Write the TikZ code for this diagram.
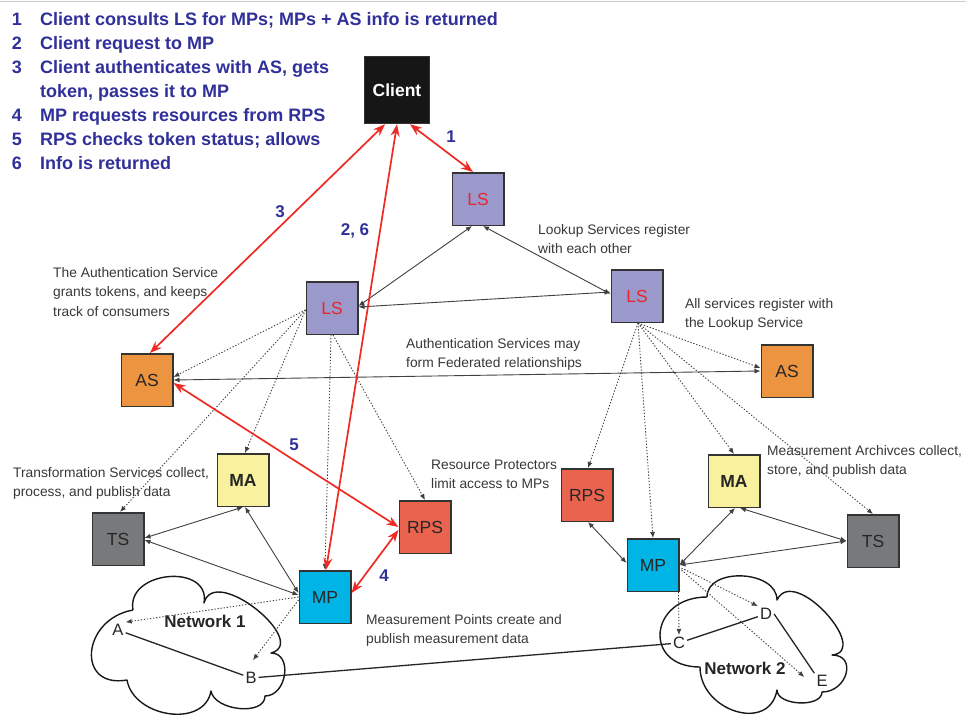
\documentclass[tikz,border=0pt]{standalone}
\usepackage{fontspec}
\setmainfont{Liberation Sans}
\usetikzlibrary{arrows.meta}

\definecolor{legendblue}{HTML}{30309A}
\definecolor{lsfill}{HTML}{9B98CB}
\definecolor{lstext}{HTML}{E8262C}
\definecolor{asfill}{HTML}{EC9440}
\definecolor{mafill}{HTML}{F8F19E}
\definecolor{tsfill}{HTML}{78797B}
\definecolor{rpsfill}{HTML}{E9634E}
\definecolor{mpfill}{HTML}{00B4E6}
\definecolor{clientfill}{HTML}{161616}
\definecolor{boxline}{HTML}{333333}
\definecolor{redline}{HTML}{EE2A24}
\definecolor{notegray}{HTML}{383838}

\tikzset{
  svc/.style={draw=boxline, line width=1.5pt, minimum width=51.5pt, minimum height=52.5pt,
    inner sep=0pt, font=\fontsize{17.5}{17.5}\selectfont, text=black!85},
  lsbox/.style={svc, fill=lsfill, text=lstext},
  asbox/.style={svc, fill=asfill},
  mabox/.style={svc, fill=mafill, font=\fontsize{17.5}{17.5}\selectfont\bfseries},
  tsbox/.style={svc, fill=tsfill},
  rpsbox/.style={svc, fill=rpsfill},
  mpbox/.style={svc, fill=mpfill},
  clientbox/.style={svc, fill=clientfill, text=white, minimum width=65pt, minimum height=67pt,
    font=\fontsize{17.5}{17.5}\selectfont\bfseries},
  legendnum/.style={anchor=base, text=legendblue, font=\fontsize{18}{24}\selectfont\bfseries},
  legendtext/.style={anchor=base west, align=left, text=legendblue, inner sep=0pt,
    font=\fontsize{18}{24}\selectfont\bfseries},
  stepnum/.style={text=legendblue, inner sep=0pt, font=\fontsize{17}{17}\selectfont\bfseries},
  % multi-line notes are placed by the baseline of their last line
  note/.style={anchor=base west, align=left, text=notegray, inner sep=0pt,
    font=\fontsize{13.8}{19.5}\selectfont},
  letter/.style={inner sep=2pt, text=black!85, font=\fontsize{16.5}{16.5}\selectfont},
  netname/.style={inner sep=1pt, text=black!85, font=\fontsize{17}{17}\selectfont\bfseries},
  netcloud/.style={draw=black!90, line width=1.4pt, line join=round},
  redarrow/.style={draw=redline, line width=1.7pt,
    {Stealth[length=12pt,width=9pt]}-{Stealth[length=12pt,width=9pt]}},
  link/.style={draw=black!75, line width=0.9pt,
    {Latex[length=6pt,width=5pt]}-{Latex[length=6pt,width=5pt]}},
  reg/.style={draw=black!75, line width=0.9pt, dash pattern=on 1.3pt off 1.8pt,
    -{Latex[length=6pt,width=5pt]}},
  netline/.style={draw=black!85, line width=1.3pt},
}

\begin{document}
\begin{tikzpicture}[x=1pt,y=-1pt]
\useasboundingbox (0,0) rectangle (966,715);
\fill[white] (0,0) rectangle (966,715);
\draw[black!20, line width=1pt] (0,1.5) -- (966,1.5);

% legend
\node[legendnum] (n1) at (17,25) {1};
\node[legendtext] (t1) at (40,25) {Client consults LS for MPs; MPs + AS info is returned};
\node[legendnum] (n2) at (17,49) {2};
\node[legendtext] (t2) at (40,49) {Client request to MP};
\node[legendnum] (n3) at (17,73) {3};
\node[legendtext] (t3) at (40,97) {Client authenticates with AS, gets\\token, passes it to MP};
\node[legendnum] (n4) at (17,121) {4};
\node[legendtext] (t4) at (40,121) {MP requests resources from RPS};
\node[legendnum] (n5) at (17,145) {5};
\node[legendtext] (t5) at (40,145) {RPS checks token status; allows};
\node[legendnum] (n6) at (17,169) {6};
\node[legendtext] (t6) at (40,169) {Info is returned};

% network clouds, drawn lobe by lobe
\draw[netcloud] (133,610)
  to[out=100,in=80,looseness=1.45] (204,603)
  to[out=75,in=15,looseness=1.25] (271,653)
  to[out=0,in=0,looseness=1.3] (265,696)
  to[out=-90,in=-80,looseness=0.95] (211,691)
  to[out=-100,in=-80,looseness=1.15] (127,680)
  to[out=190,in=190,looseness=1.9] (133,610);
\draw[netcloud] (707,597)
  to[out=90,in=90,looseness=1.1] (777,600)
  to[out=65,in=5,looseness=1.3] (832,655)
  to[out=0,in=0,looseness=1.7] (822,692)
  to[out=-90,in=-90,looseness=0.9] (777,690)
  to[out=-100,in=-90,looseness=1.4] (700,667)
  to[out=180,in=180,looseness=2.1] (707,597);

% services
\node[clientbox] (client) at (397,90) {Client};
\node[lsbox] (lstop) at (478,199) {LS};
\node[lsbox] (lsl) at (332,308) {LS};
\node[lsbox] (lsr) at (637,296) {LS};
\node[asbox] (asl) at (147,380) {AS};
\node[asbox] (asr) at (787,371) {AS};
\node[mabox] (mal) at (243,480) {MA};
\node[tsbox] (tsl) at (118,539) {TS};
\node[rpsbox] (rpsl) at (425,527) {RPS};
\node[mpbox] (mpl) at (325,597) {MP};
\node[rpsbox] (rpsr) at (587,495) {RPS};
\node[mabox] (mar) at (734,481) {MA};
\node[tsbox] (tsr) at (873,541) {TS};
\node[mpbox] (mpr) at (653,565) {MP};

% hosts
\node[letter] (A) at (118,630) {A};
\node[letter] (B) at (251,678) {B};
\node[letter] (C) at (679,643) {C};
\node[letter] (D) at (766,614) {D};
\node[letter] (E) at (822,681) {E};
\node[netname] (net1name) at (205,621) {Network 1};
\node[netname] (net2name) at (745,668) {Network 2};

% network links
\draw[netline] (A) -- (B);
\draw[netline] (B) -- (C);
\draw[netline] (C) -- (D);
\draw[netline] (D.east) -- (E.north west);

% lookup registrations
\draw[reg] ([yshift=-2pt]lsl.west) -- ([yshift=3pt]asl.east);
\draw[reg] ([yshift=-2pt]lsl.west) -- ([xshift=2pt]tsl.north);
\draw[reg] ([yshift=-2pt]lsl.west) -- ([xshift=2pt]mal.north);
\draw[reg] ([xshift=-1pt]lsl.south) -- (mpl.north);
\draw[reg] ([xshift=1pt]lsl.south) -- (rpsl.north);
\draw[reg] ([xshift=1pt]lsr.south) -- ([yshift=3pt]asr.west);
\draw[reg] ([xshift=1pt]lsr.south) -- ([xshift=1pt]rpsr.north);
\draw[reg] ([xshift=1pt]lsr.south) -- (mpr.north);
\draw[reg] ([xshift=1pt]lsr.south) -- (mar.north);
\draw[reg] ([xshift=1pt]lsr.south) -- (tsr.north);

% measurement points to hosts
\draw[reg] (mpl.west) -- (A.north east);
\draw[reg] ([yshift=-3pt]mpl.west) -- ([shift={(2pt,10pt)}]B.north);
\draw[reg] ([xshift=-1pt]mpr.south east) -- (C.north);
\draw[reg] ([shift={(2pt,-3pt)}]mpr.east) -- (D.north west);
\draw[reg] ([shift={(2pt,-5pt)}]mpr.east) -- ([shift={(-10pt,4pt)}]E.west);

% service links
\draw[link] ([xshift=-6pt]lstop.south) -- ([yshift=2pt]lsl.east);
\draw[link] ([xshift=5pt]lstop.south) -- ([yshift=2pt]lsr.west);
\draw[link] ([yshift=1pt]lsl.east) -- ([yshift=4pt]lsr.west);
\draw[link] (asl.east) -- (asr.west);
\draw[link] (mal.south) -- ([yshift=1pt]tsl.east);
\draw[link] ([yshift=2pt]mpl.west) -- ([yshift=-1pt]tsl.east);
\draw[link] ([yshift=4pt]mpl.west) -- ([xshift=2pt]mal.south);
\draw[link] ([xshift=1pt]rpsr.south) -- ([yshift=2pt]mpr.west);
\draw[link] (mpr.east) -- ([xshift=1pt]mar.south);
\draw[link] (mpr.east) -- (tsr.west);
\draw[link] ([xshift=6pt]mar.south) -- (tsr.west);

% numbered interactions
\draw[redarrow] ([xshift=13pt]client.south) -- ([xshift=-5pt]lstop.north);
\draw[redarrow] ([xshift=-12pt]client.south) -- ([xshift=3pt]asl.north);
\draw[redarrow] (client.south) -- ([xshift=1pt]mpl.north);
\draw[redarrow] ([yshift=-3pt]asl.east) -- (rpsl.west);
\draw[redarrow] ([yshift=4pt]mpl.east) -- ([yshift=-3pt]rpsl.west);

\node[stepnum] (s1) at (451,137) {1};
\node[stepnum] (s3) at (280,212) {3};
\node[stepnum] (s26) at (355,231) {2, 6};
\node[stepnum] (s5) at (294,445) {5};
\node[stepnum] (s4) at (384,576) {4};

% notes
\node[note] (noteas) at (53,316) {The Authentication Service\\grants tokens, and keeps\\track of consumers};
\node[note] (notels) at (538,253.5) {Lookup Services register\\with each other};
\node[note] (noteall) at (685,327.5) {All services register with\\the Lookup Service};
\node[note] (notefed) at (406,367.5) {Authentication Services may\\form Federated relationships};
\node[note] (notets) at (13,496.5) {Transformation Services collect,\\process, and publish data};
\node[note] (noterps) at (431,488.5) {Resource Protectors\\limit access to MPs};
\node[note] (notema) at (767,474.5) {Measurement Archivces collect,\\store, and publish data};
\node[note] (notemp) at (366,643.5) {Measurement Points create and\\publish measurement data};
\end{tikzpicture}
\end{document}
